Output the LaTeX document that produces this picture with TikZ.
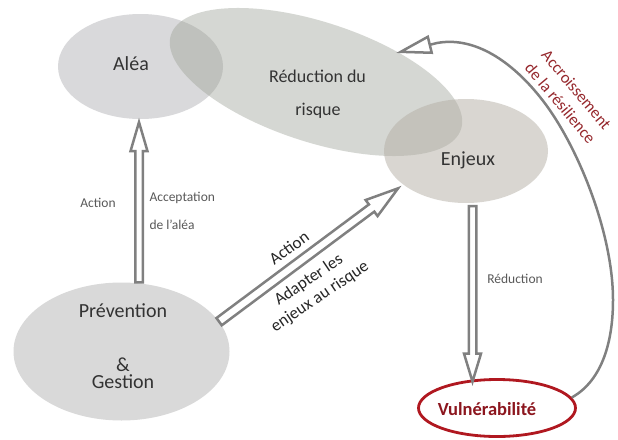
\documentclass[tikz,border=0pt]{standalone}
\usepackage{fontspec}
\setmainfont{Carlito}
\usetikzlibrary{shapes.geometric,calc,arrows.meta}
\definecolor{aleaC}{RGB}{217,217,219}
\definecolor{redC}{RGB}{152,157,145}
\definecolor{enjC}{RGB}{180,175,165}
\definecolor{prevC}{RGB}{217,217,217}
\definecolor{vulB}{RGB}{176,24,32}
\definecolor{vulT}{RGB}{140,22,30}
\definecolor{accrT}{RGB}{150,40,45}
\definecolor{arrC}{RGB}{128,128,128}
\newcommand\blockarrow[5]{%
  \coordinate (tmpH) at ($(#2)!#5!(#1)$);
  \draw[blockarr] ($(#1)!#3!90:(#2)$) -- ($(tmpH)!#3!-90:(#1)$) -- ($(tmpH)!#4!-90:(#1)$) -- (#2) -- ($(tmpH)!#4!90:(#1)$) -- ($(tmpH)!#3!90:(#1)$) -- ($(#1)!#3!-90:(#2)$) -- cycle;
}
\begin{document}
\begin{tikzpicture}[x=1pt,y=-1pt,
  blob/.style={ellipse, inner sep=0pt},
  lbl/.style={text=black!80, font=\fontsize{20}{24}\selectfont},
  lblr/.style={text=black!80, font=\fontsize{18}{22}\selectfont},
  small/.style={text=black!65, font=\fontsize{13.5}{16}\selectfont},
  rot/.style={text=black!85, font=\fontsize{17}{20}\selectfont, inner sep=1pt},
  rotred/.style={text=accrT, font=\fontsize{16.5}{21}\selectfont, inner sep=1pt},
  blockarr/.style={draw=arrC, line width=2.5pt, fill=white, line join=miter},
  curvearr/.style={draw=arrC, line width=2.5pt, -{Triangle[open, fill=white, length=36pt, width=19pt]}}]
\useasboundingbox[fill=white] (0,0) rectangle (618,439);
% ellipses
\node[blob, fill=aleaC, minimum width=165pt, minimum height=105pt] (alea) at (140.5,66.5) {};
\node[blob, fill=redC, fill opacity=0.4, minimum width=305pt, minimum height=120pt, rotate=-18] (red) at (316,82) {};
\node[blob, fill=enjC, fill opacity=0.5, minimum width=164pt, minimum height=104pt] (enj) at (466,151) {};
\node[blob, fill=prevC, minimum width=216pt, minimum height=138pt] (prev) at (121.5,351.5) {};
\node[blob, draw=vulB, line width=2.8pt, fill=white, minimum width=157pt, minimum height=57pt] (vul) at (497,408) {};
% labels
\node[lbl, anchor=base] (aleaT) at (131,70) {Aléa};
\node[lblr, anchor=base] (redT1) at (317.5,82) {Réduction du};
\node[lblr, anchor=base] (redT2) at (318,115) {risque};
\node[lbl, anchor=base] (enjT) at (468,165) {Enjeux};
\node[lbl, anchor=base] (prevT1) at (123,317) {Prévention};
\node[lbl, anchor=base] (prevT2) at (123,371) {\&};
\node[lbl, anchor=base] (prevT3) at (123,388) {Gestion};
\node[text=vulT, font=\bfseries\fontsize{18.5}{22}\selectfont, anchor=base] (vulT) at (487,415) {Vulnérabilité};
\node[small, anchor=base] (act1) at (98,207) {Action};
\node[small, anchor=base west] (acc1) at (146,201) {Acceptation};
\node[small, anchor=base west] (acc2) at (146,229) {de l’aléa};
\node[small, anchor=base] (redu) at (515,283) {Réduction};
\node[rot, rotate=36] (actD) at (289,248) {Action};
\node[rot, rotate=34, align=center] (adapt) at (314.5,288.5) {Adapter les\\enjeux au risque};
\node[rotred, rotate=-50, align=center] (accr) at (568.5,96.5) {Accroissement\\de la résilience};
% block arrows
\coordinate (a1e) at ($(alea.south)+(-1.5,3)$);
\coordinate (a1s) at (a1e |- prev.north);
\blockarrow{a1s}{a1e}{3.75pt}{8.5pt}{29pt}
\coordinate (a2s) at (prev.17);
\coordinate (a2e) at ($(enj.209)+(-6,3)$);
\blockarrow{a2s}{a2e}{4.5pt}{10pt}{33pt}
\coordinate (a3s) at ($(enj.south)+(6.5,3)$);
\coordinate (a3e) at ($(a3s |- vul.north)+(0,3.5)$);
\blockarrow{a3s}{a3e}{3.75pt}{8.5pt}{28pt}
% curved arrow
\coordinate (ctip) at (396,53);
\draw[curvearr] (vul.8) .. controls (603,380) and (613,340) .. (613,300)
  .. controls (613,230) and (575,140) .. (540,97)
  .. controls (512,62) and (475,36) .. (437,43) -- (ctip);
\end{tikzpicture}
\end{document}
